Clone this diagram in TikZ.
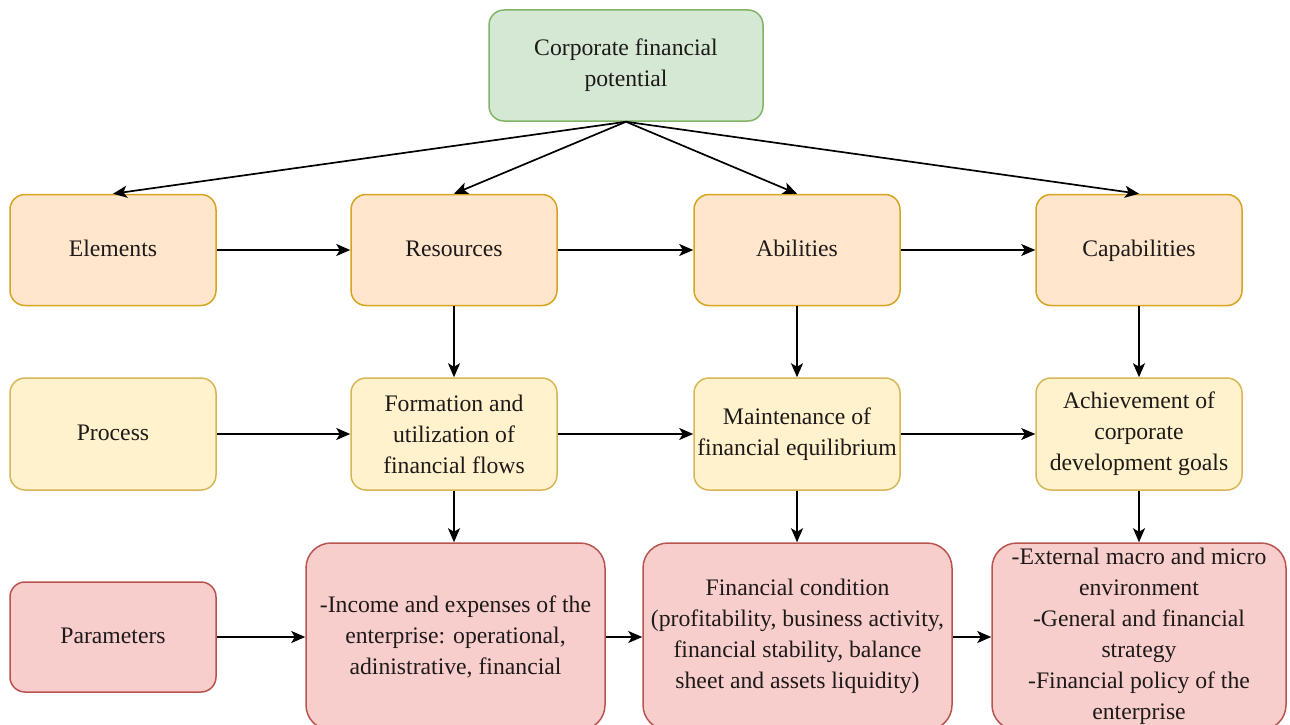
\documentclass[tikz,border=0pt]{standalone}
\usepackage{fontspec}
\setmainfont{Liberation Serif}
\usetikzlibrary{arrows.meta}

\definecolor{ink}{HTML}{1E1A1A}
\definecolor{greenfill}{HTML}{D5E8D4}
\definecolor{greenline}{HTML}{82B366}
\definecolor{orangefill}{HTML}{FFE6CC}
\definecolor{orangeline}{HTML}{D6A41E}
\definecolor{yellowfill}{HTML}{FFF2CC}
\definecolor{yellowline}{HTML}{D6B656}
\definecolor{redfill}{HTML}{F8CECC}
\definecolor{redline}{HTML}{B85450}

\begin{document}
\begin{tikzpicture}[x=1pt,y=-1pt,
  box/.style={rounded corners=15pt, line width=1.5pt, align=center, inner sep=0pt,
    text=ink, font=\fontsize{23.7pt}{31pt}\selectfont},
  oneline/.style={text height=17pt, text depth=5pt},
  rootbox/.style={box, fill=greenfill, draw=greenline, minimum width=274pt, minimum height=111pt},
  levelbox/.style={box, oneline, fill=orangefill, draw=orangeline, minimum width=206pt, minimum height=111pt},
  procbox/.style={box, fill=yellowfill, draw=yellowline, minimum width=206pt, minimum height=112pt},
  parambox/.style={box, oneline, fill=redfill, draw=redline, minimum width=206pt, minimum height=110pt},
  widebox/.style={box, fill=redfill, draw=redline, rounded corners=25pt, minimum height=187pt},
  link/.style={line width=1.7pt, draw=black, -{Stealth[length=14pt, width=12pt, inset=3.5pt]}}
]
\useasboundingbox (0,0) rectangle (1290,725);
\clip (0,0) rectangle (1290,725);

% root
\node[rootbox] (root) at (626,65.5) {Corporate financial\\potential};

% first level
\node[levelbox] (elem) at (113,250) {Elements};
\node[levelbox] (res)  at (454,250) {Resources};
\node[levelbox] (abil) at (797,250) {Abilities};
\node[levelbox] (cap)  at (1139,250) {Capabilities};

% processes
\node[procbox, oneline] (proc) at (113,434) {Process};
\node[procbox] (form) at (454,434) {Formation and\\utilization of\\financial flows};
\node[procbox] (main) at (797,434) {Maintenance of\\financial equilibrium};
\node[procbox] (ach)  at (1139,434) {Achievement of\\corporate\\development goals};

% parameters
\node[parambox] (par) at (113,637) {Parameters};
\node[widebox, minimum width=299pt] (inc) at (455.5,636.5)
  {-Income and expenses of the\\enterprise: operational,\\adinistrative, financial};
\node[widebox, minimum width=309pt] (cond) at (797.5,636.5)
  {Financial condition\\(profitability, business activity,\\financial stability, balance\\sheet and assets liquidity)};
\node[widebox, minimum width=294pt] (ext) at (1139,636.5)
  {-External macro and micro\\environment\\-General and financial\\strategy\\-Financial policy of the\\enterprise};

% fan-out from the root
\draw[link] (root.south) -- (elem.north);
\draw[link] (root.south) -- (res.north);
\draw[link] (root.south) -- (abil.north);
\draw[link] (root.south) -- (cap.north);

% horizontal chains
\draw[link] (elem) -- (res);
\draw[link] (res) -- (abil);
\draw[link] (abil) -- (cap);
\draw[link] (proc) -- (form);
\draw[link] (form) -- (main);
\draw[link] (main) -- (ach);
\draw[link] (par.east) -- (par.east -| inc.west);
\draw[link] (par.east -| inc.east) -- (par.east -| cond.west);
\draw[link] (par.east -| cond.east) -- (par.east -| ext.west);

% vertical links
\draw[link] (res) -- (form);
\draw[link] (abil) -- (main);
\draw[link] (cap) -- (ach);
\draw[link] (form.south) -- (form.south |- inc.north);
\draw[link] (main.south) -- (main.south |- cond.north);
\draw[link] (ach.south) -- (ach.south |- ext.north);
\end{tikzpicture}
\end{document}
